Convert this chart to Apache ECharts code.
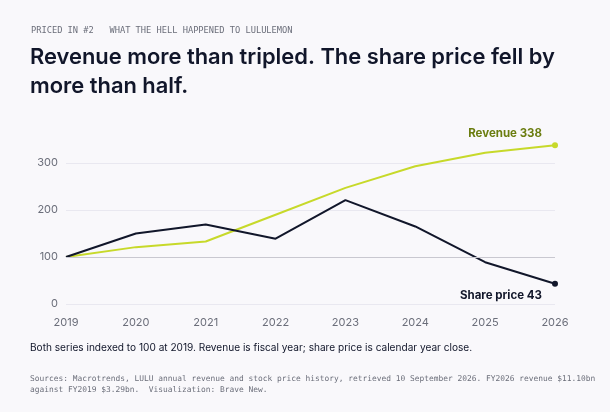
<!DOCTYPE html>
<html><head><meta charset="utf-8">
<script src="https://cdn.jsdelivr.net/npm/echarts@6/dist/echarts.min.js"></script>
<style>html,body{margin:0;padding:0;background:#f9f8fb;}#c{width:610px;height:412px;}</style>
</head><body><div id="c"></div>
<script>
const years = ['2019','2020','2021','2022','2023','2024','2025','2026'];
const revenue = [100,121,133,190,247,293,322,338];
const sharePrice = [100,150,169,139,221,165,89,43];
const yTicks = [0,100,200,300];

const chart = echarts.init(document.getElementById('c'));
const lastItem = (arr, text, color, off) => arr.map((v,i)=> i===arr.length-1 ? {
  value:v, symbol:'circle', symbolSize:6,
  label:{show:true, position:'left', distance:10, offset:off, formatter:text, color:color, fontSize:11.5, fontWeight:'bold', fontFamily:'Inter'}
} : {value:v, symbol:'none'});
chart.setOption({
  backgroundColor:'#f9f8fb',
  animation:false,
  textStyle:{fontFamily:'Inter'},
  graphic:[
    {type:'text',left:31,top:26,style:{text:'PRICED IN #2   WHAT THE HELL HAPPENED TO LULULEMON',fontFamily:'DejaVu Sans Mono',fontSize:8.7,fill:'#6b6e7a'}},
    {type:'text',left:30,top:43,style:{text:'Revenue more than tripled. The share price fell by\nmore than half.',fontFamily:'Inter',fontSize:21.9,fontWeight:600,lineHeight:29,fill:'#11162a'}},
    {type:'text',left:30,top:343,style:{text:'Both series indexed to 100 at 2019. Revenue is fiscal year; share price is calendar year close.',fontFamily:'Inter',fontSize:10.1,fill:'#11162a'}},
    {type:'text',left:30,top:373,style:{text:'Sources: Macrotrends, LULU annual revenue and stock price history, retrieved 10 September 2026. FY2026 revenue $11.10bn\nagainst FY2019 $3.29bn.  Visualization: Brave New.',fontFamily:'DejaVu Sans Mono',fontSize:7.9,lineHeight:11,fill:'#6b6e7a'}}
  ],
  grid:{left:66,right:55,top:163,bottom:108},
  xAxis:{type:'category',data:years,boundaryGap:false,
    axisLine:{show:false},axisTick:{show:false},
    axisLabel:{color:'#6b6e7a',fontSize:11,margin:13}},
  yAxis:{type:'value',min:0,max:300,interval:100,
    axisLabel:{color:'#6b6e7a',fontSize:11,margin:8,formatter:v=>yTicks.includes(v)?String(v):''},
    splitLine:{lineStyle:{color:'#e9e8f0',width:1}}},
  series:[
    {type:'line',data:lastItem(revenue,'Revenue 338','#6b7d10',[0,-12]),clip:false,showSymbol:true,
      lineStyle:{color:'#c7d92a',width:2},itemStyle:{color:'#c7d92a'},
      markLine:{silent:true,symbol:'none',label:{show:false},lineStyle:{color:'#c9c8d0',type:'solid',width:1},data:[{yAxis:100}]}},
    {type:'line',data:lastItem(sharePrice,'Share price 43','#11162a',[0,12]),clip:false,showSymbol:true,
      lineStyle:{color:'#11162a',width:2},itemStyle:{color:'#11162a'}}
  ]
});
</script></body></html>
